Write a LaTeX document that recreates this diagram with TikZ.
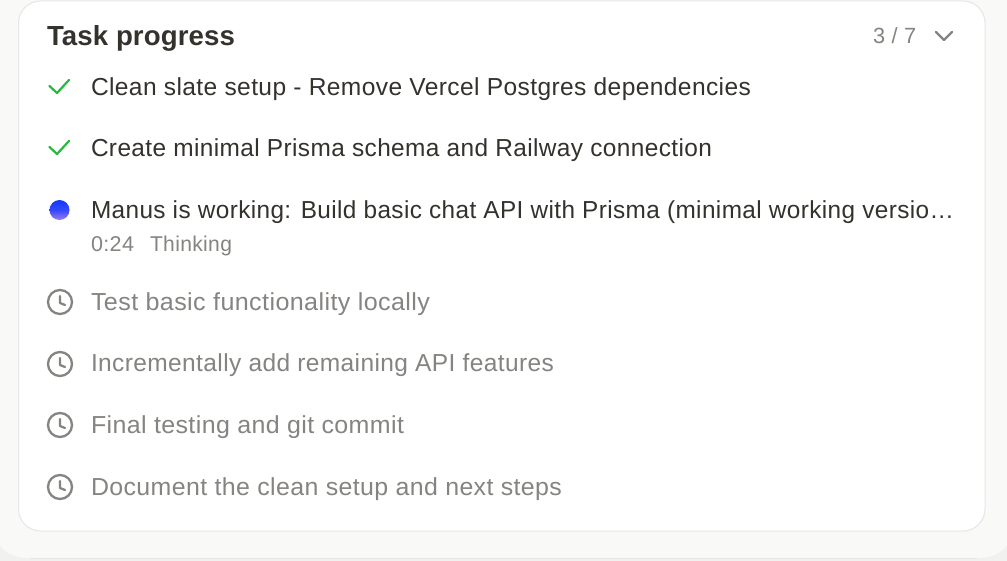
\documentclass[tikz,border=0pt]{standalone}
\usepackage{fontspec}
\usepackage{graphicx}
\setmainfont{Liberation Sans}
\newfontfamily\bodyf[LetterSpace=1.6]{Liberation Sans}
\newfontfamily\headf[LetterSpace=0.4]{Liberation Sans}
\definecolor{inkdark}{HTML}{34322D}
\definecolor{inkgray}{HTML}{858481}
\definecolor{okgreen}{HTML}{25BA3B}
\definecolor{pagebg}{HTML}{F1F1EF}
\definecolor{panelbg}{HTML}{F9F9F8}
\definecolor{cardline}{HTML}{E6E6E8}
\definecolor{dottop}{HTML}{1238FF}
\definecolor{dotbot}{HTML}{9A7CF0}
\newcommand{\fitw}[2]{\resizebox{#1pt}{\height}{#2}}
\tikzset{
 x=1pt,y=-1pt,
 bodytext/.style={anchor=base west,inner sep=0pt,outer sep=0pt,text=inkdark,font=\bodyf\fontsize{24.6}{28}\selectfont},
 mutedtext/.style={bodytext,text=inkgray},
 subtext/.style={bodytext,text=inkgray,font=\bodyf\fontsize{21.4}{25}\selectfont},
 headtext/.style={anchor=base west,inner sep=0pt,outer sep=0pt,text=inkdark,font=\headf\bfseries\fontsize{27.6}{31}\selectfont},
 checkmark/.style={draw=okgreen,line width=2.2pt,line cap=round,line join=round},
 clockicon/.style={draw=inkgray,line width=2.3pt,line cap=round,line join=round},
 chevron/.style={draw=inkgray,line width=2.2pt,line cap=round,line join=round},
}
\newcommand{\checkicon}[1]{\draw[checkmark] (49.5,#1-6) -- (57,#1+1) -- (69,#1-12);}
\newcommand{\clockat}[1]{\draw[clockicon] (60,#1) circle[radius=12];\draw[clockicon] (60,#1-6) -- (60,#1+1) -- (65,#1+3);}
\begin{document}
\begin{tikzpicture}
\useasboundingbox (0,0) rectangle (1007,561);
\fill[pagebg] (0,0) rectangle (1007,561);
\fill[panelbg] (-40,-40) rectangle (1047,558) ;
\fill[pagebg] (0,561) -- (0,546) .. controls (6,554) and (16,558) .. (32,558.5) -- (975,558.5) .. controls (992,558) and (1002,553) .. (1007,545) -- (1007,561) -- cycle;
\draw[cardline,line width=1pt] (30,558.5) -- (977,558.5);
\draw[cardline,line width=1pt] (0,0) -- (1007,0);
\draw[draw=cardline,fill=white,line width=1pt,rounded corners=22pt] (18.5,1) rectangle (985,531);
\node[headtext] (title) at (47,45.5) {\fitw{188}{Task progress}};
\node[anchor=base west,inner sep=0pt,text=inkgray,font=\bodyf\fontsize{22}{26}\selectfont] (count) at (873,44) {\fitw{43}{3 / 7}};
\draw[chevron] (936,32) -- (944,40) -- (952,32);
\checkicon{92}
\node[bodytext] (t1) at (91,96) {\fitw{660}{Clean slate setup - Remove Vercel Postgres dependencies}};
\checkicon{153}
\node[bodytext] (t2) at (91,156.5) {\fitw{621}{Create minimal Prisma schema and Railway connection}};
\shade[top color=dottop,bottom color=dotbot,middle color=dottop!75!dotbot] (59.5,210) circle[radius=10];
\node[bodytext] (t3) at (91,218.5) {\fitw{863}{Manus is working: Build basic chat API with Prisma (minimal working versio…}};
\node[subtext] (time) at (91,251.5) {\fitw{43}{0:24}};
\node[subtext] (state) at (150,251.5) {\fitw{82}{Thinking}};
\clockat{302}
\node[mutedtext] (t4) at (91,310.5) {\fitw{339}{Test basic functionality locally}};
\clockat{364}
\node[mutedtext] (t5) at (91,372) {\fitw{463}{Incrementally add remaining API features}};
\clockat{425}
\node[mutedtext] (t6) at (91,433) {\fitw{313}{Final testing and git commit}};
\clockat{487}
\node[mutedtext] (t7) at (91,495) {\fitw{471}{Document the clean setup and next steps}};
\end{tikzpicture}
\end{document}
